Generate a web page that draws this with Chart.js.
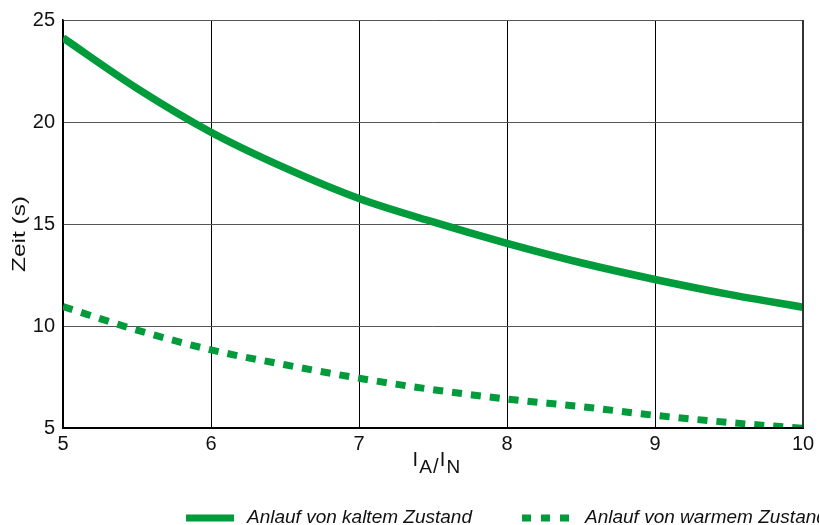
<!DOCTYPE html>
<html>
<head>
<meta charset="utf-8">
<script src="https://cdn.jsdelivr.net/npm/chart.js@4/dist/chart.umd.min.js"></script>
<style>
html,body{margin:0;padding:0;background:#fff;}
#wrap{width:819px;height:525px;position:relative;}
</style>
</head>
<body>
<div id="wrap"><canvas id="c" width="819" height="525"></canvas></div>
<script>
// Data
const ratios = [5, 5.5, 6, 6.5, 7, 7.5, 8, 8.5, 9, 9.5, 10];
const coldStart = [24.12, 21.65, 19.5, 17.75, 16.25, 15.1, 14.05, 13.1, 12.28, 11.55, 10.92];
const warmStart = [10.95, 9.8, 8.83, 8.1, 7.44, 6.88, 6.42, 6.05, 5.62, 5.27, 4.98];
const seriesLabels = ['Anlauf von kaltem Zustand', 'Anlauf von warmem Zustand'];
const xTicks = [5, 6, 7, 8, 9, 10];
const yTicks = [5, 10, 15, 20, 25];
const yTitle = 'Zeit (s)';
const xTitleParts = [['I', false], ['A', true], ['/I', false], ['N', true]];

const GREEN = '#009B3A';
const FONT = '"Liberation Sans", Arial, sans-serif';

const toPts = (xs, ys) => xs.map((x, i) => ({x: x, y: ys[i]}));

const decorPlugin = {
  id: 'decor',
  afterDraw(chart) {
    const ctx = chart.ctx;
    const ca = chart.chartArea;
    ctx.save();
    // borders
    ctx.strokeStyle = '#000';
    ctx.lineWidth = 2;
    ctx.beginPath();
    ctx.moveTo(ca.left, ca.bottom);
    ctx.lineTo(ca.right, ca.bottom);
    ctx.stroke();
    ctx.strokeStyle = '#333';
    ctx.beginPath();
    ctx.moveTo(ca.right, ca.top);
    ctx.lineTo(ca.right, ca.bottom);
    ctx.stroke();
    // y title (slightly stretched along its length)
    ctx.fillStyle = '#111';
    ctx.font = '19px ' + FONT;
    ctx.textAlign = 'center';
    ctx.textBaseline = 'middle';
    const tw = ctx.measureText(yTitle).width;
    ctx.translate(20, 234);
    ctx.rotate(-Math.PI / 2);
    ctx.scale(76 / tw, 1);
    ctx.fillText(yTitle, 0, 0);
    ctx.restore();

    // x title with subscripts
    ctx.save();
    ctx.fillStyle = '#111';
    ctx.textBaseline = 'alphabetic';
    ctx.textAlign = 'left';
    const sp = 1.2;
    let total = 0;
    const widths = xTitleParts.map(([t, sub]) => {
      ctx.font = (sub ? '19px ' : '20px ') + FONT;
      const w = ctx.measureText(t).width + sp * t.length;
      total += w;
      return w;
    });
    let x = 437 - total / 2;
    xTitleParts.forEach(([t, sub], i) => {
      ctx.font = (sub ? '19px ' : '20px ') + FONT;
      let cx = x;
      for (const ch of t) {
        const isSlash = ch === '/';
        ctx.fillText(ch, cx, (sub || isSlash) ? 473 : 466);
        cx += ctx.measureText(ch).width + sp;
      }
      x += widths[i];
    });
    ctx.restore();

    // legend
    ctx.save();
    const ly = 518;
    ctx.strokeStyle = GREEN;
    ctx.lineWidth = 7;
    ctx.lineCap = 'butt';
    ctx.beginPath();
    ctx.moveTo(186, ly);
    ctx.lineTo(234, ly);
    ctx.stroke();
    ctx.setLineDash([9, 10]);
    ctx.beginPath();
    ctx.moveTo(522, ly);
    ctx.lineTo(570, ly);
    ctx.stroke();
    ctx.setLineDash([]);
    ctx.fillStyle = '#111';
    ctx.font = 'italic 19px ' + FONT;
    ctx.textBaseline = 'middle';
    ctx.textAlign = 'left';
    ctx.fillText(seriesLabels[0], 247, ly);
    ctx.fillText(seriesLabels[1], 585, ly);
    ctx.restore();
  }
};

new Chart(document.getElementById('c'), {
  type: 'line',
  data: {
    datasets: [
      {
        label: seriesLabels[0],
        data: toPts(ratios, coldStart),
        borderColor: GREEN,
        borderWidth: 7.5,
        pointRadius: 0,
        fill: false,
        cubicInterpolationMode: 'monotone',
        borderCapStyle: 'butt'
      },
      {
        label: seriesLabels[1],
        data: toPts(ratios, warmStart),
        borderColor: GREEN,
        borderWidth: 7,
        borderDash: [10, 9],
        pointRadius: 0,
        fill: false,
        cubicInterpolationMode: 'monotone',
        borderCapStyle: 'butt'
      }
    ]
  },
  options: {
    responsive: false,
    animation: false,
    devicePixelRatio: 1,
    layout: {padding: {top: 20, right: 16, bottom: 0, left: 0}},
    plugins: {legend: {display: false}, tooltip: {enabled: false}},
    scales: {
      x: {
        type: 'linear',
        min: 5, max: 10,
        afterBuildTicks: (s) => { s.ticks = xTicks.map(v => ({value: v})); },
        afterFit: (s) => { s.height = 97; },
        grid: {color: '#000', lineWidth: 1, drawTicks: false},
        border: {color: '#000', width: 2},
        ticks: {color: '#111', font: {family: FONT, size: 20}, padding: 4, maxRotation: 0}
      },
      y: {
        type: 'linear',
        min: 5, max: 25,
        afterBuildTicks: (s) => { s.ticks = yTicks.map(v => ({value: v})); },
        afterFit: (s) => { s.width = 63; },
        grid: {color: '#555', lineWidth: 1, drawTicks: false},
        border: {color: '#000', width: 1.5},
        ticks: {color: '#111', font: {family: FONT, size: 20}, padding: 8}
      }
    }
  },
  plugins: [decorPlugin]
});
</script>
</body>
</html>
